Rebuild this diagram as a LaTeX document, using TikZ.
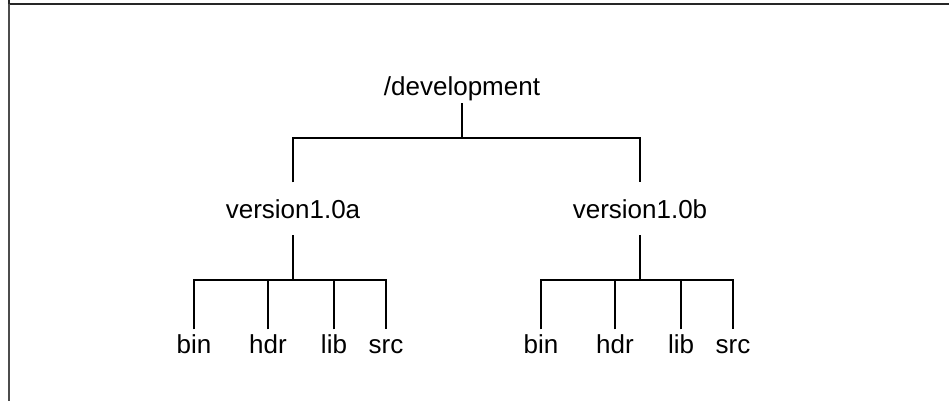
\documentclass[tikz,border=0pt]{standalone}
\usepackage{fontspec}
\setmainfont{Liberation Sans}
\begin{document}
\begin{tikzpicture}[x=1pt,y=1pt,
  dirname/.style={inner sep=0pt, anchor=base, font=\fontsize{26}{30}\selectfont, text height=18.7pt},
  rootlbl/.style={dirname, text depth=5.5pt, outer sep=2.5pt},
  midlbl/.style={dirname, text depth=0pt, outer xsep=0pt, outer ysep=17pt},
  leaflbl/.style={dirname, text depth=5.5pt, outer xsep=0pt, outer ysep=5pt},
  branch/.style={draw=black, line width=2pt}]
  \useasboundingbox (0,0) rectangle (949,400);
  \clip (0,0) rectangle (949,400);
  \fill[white] (0,0) rectangle (949,400);
  % outer frame, running off the right and bottom edges
  \draw[line width=1.2pt, black!85] (9,420) -- (9,396) -- (970,396);
  \draw[line width=1.2pt, black!70] (9,396) -- (9,-20);

  % directory names
  \node[rootlbl] (dev) at (462,305) {/development};
  \node[midlbl] (va) at (293,182) {version1.0a};
  \node[midlbl] (vb) at (640,182) {version1.0b};
  \node[leaflbl] (a1) at (194,47) {bin};
  \node[leaflbl] (a2) at (268,47) {hdr};
  \node[leaflbl] (a3) at (334,47) {lib};
  \node[leaflbl] (a4) at (386,47) {src};
  \node[leaflbl] (b1) at (541,47) {bin};
  \node[leaflbl] (b2) at (615,47) {hdr};
  \node[leaflbl] (b3) at (681,47) {lib};
  \node[leaflbl] (b4) at (733,47) {src};

  % junction points of the tree
  \coordinate (j0) at (462,262);
  \coordinate (ja) at (293,120);
  \coordinate (jb) at (640,120);

  % branches
  \draw[branch] (dev.south) -- (j0);
  \draw[branch] (va.north) |- (j0) -| (vb.north);
  \draw[branch] (va.south) -- (ja);
  \draw[branch] (vb.south) -- (jb);
  \draw[branch] (a1.north) |- (ja) -| (a4.north);
  \draw[branch] (a2.north) -- (a2.north |- ja);
  \draw[branch] (a3.north) -- (a3.north |- ja);
  \draw[branch] (b1.north) |- (jb) -| (b4.north);
  \draw[branch] (b2.north) -- (b2.north |- jb);
  \draw[branch] (b3.north) -- (b3.north |- jb);
\end{tikzpicture}
\end{document}
